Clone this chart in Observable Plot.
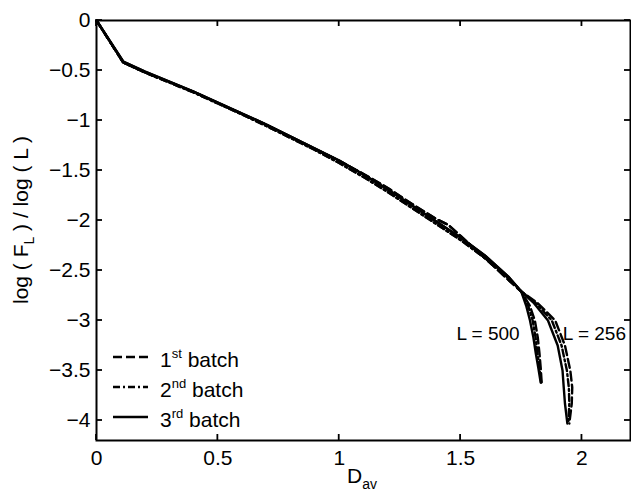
<!DOCTYPE html>
<html><head><meta charset="utf-8">
<script src="https://cdn.jsdelivr.net/npm/d3@7"></script>
<script src="https://cdn.jsdelivr.net/npm/@observablehq/plot@0.6"></script>
<style>body{margin:0;background:#fff}</style>
</head><body><div id="chart"></div>
<script>
// Shared trunk: D_av values and log(F_L)/log(L) per batch
const dav = [0, 0.11, 0.2, 0.3, 0.4, 0.5, 0.6, 0.7, 0.8, 0.9, 1.0, 1.1, 1.2, 1.3, 1.4, 1.45, 1.5, 1.6, 1.7, 1.75];
const batch1Trunk = [0, -0.42, -0.52, -0.615, -0.715, -0.825, -0.935, -1.045, -1.165, -1.285, -1.405, -1.535, -1.675, -1.835, -1.985, -2.045, -2.155, -2.375, -2.60, -2.71];
const batch2Trunk = [0, -0.42, -0.52, -0.62, -0.72, -0.83, -0.94, -1.055, -1.175, -1.295, -1.425, -1.565, -1.715, -1.875, -2.035, -2.115, -2.195, -2.375, -2.58, -2.71];
const batch3Trunk = [0, -0.41, -0.51, -0.61, -0.71, -0.82, -0.93, -1.04, -1.16, -1.28, -1.40, -1.54, -1.69, -1.85, -2.01, -2.09, -2.17, -2.35, -2.57, -2.71];

// L = 500 branch
const l500F = [-2.71, -2.85, -3.0, -3.17, -3.33, -3.47, -3.62];
const batch1L500 = [1.75, 1.785, 1.806, 1.818, 1.825, 1.83, 1.834];
const batch2L500 = [1.75, 1.778, 1.797, 1.809, 1.817, 1.825, 1.832];
const batch3L500 = [1.75, 1.77, 1.786, 1.80, 1.81, 1.82, 1.83];

// L = 256 branch
const l256F = [-2.71, -2.82, -3.0, -3.25, -3.5, -3.67, -3.83, -4.03];
const batch1L256 = [1.75, 1.815, 1.89, 1.93, 1.952, 1.96, 1.958, 1.948];
const batch2L256 = [1.75, 1.808, 1.876, 1.916, 1.938, 1.946, 1.948, 1.944];
const batch3L256 = [1.75, 1.80, 1.86, 1.90, 1.92, 1.925, 1.93, 1.94];

const xTicks = [0, 0.5, 1, 1.5, 2];
const yTicks = [0, -0.5, -1, -1.5, -2, -2.5, -3, -3.5, -4];
const batchNums = ["1", "2", "3"];
const batchSups = ["st", "nd", "rd"];
const curveLabels = ["L = 500", "L = 256"];

function curve(trunk, branchX, branchF, batch, L) {
  const pts = dav.map((x, i) => ({x, y: trunk[i], batch, L}));
  branchX.forEach((x, i) => { if (i > 0) pts.push({x, y: branchF[i], batch, L}); });
  return pts;
}
const series = [
  [batch1Trunk, batch1L500, batch1L256],
  [batch2Trunk, batch2L500, batch2L256],
  [batch3Trunk, batch3L500, batch3L256]
].map(([t, a, b], k) => curve(t, a, l500F, k, 500).concat(curve(t, b, l256F, k, 256)));

const dashStyles = ["9,4", "7,3,2,3", null];
const fmt = d => d === 0 ? "0" : (d < 0 ? "\u2212" : "") + Math.abs(d);
const FONT = "'Liberation Sans', Arial, Helvetica, sans-serif";

const W = 631, H = 492, ML = 96, MR = 1, MT = 20, MB = 52;
const xDom = [0, 2.2], yDom = [-4.2, 0];
const TICK = 6; // inward tick length in px

const plot = Plot.plot({
  width: W, height: H,
  marginLeft: ML, marginRight: MR, marginTop: MT, marginBottom: MB,
  x: {domain: xDom},
  y: {domain: yDom},
  style: {fontFamily: FONT, fontSize: "21px", color: "black", background: "white"},
  marks: [
    ...series.map((data, k) => Plot.line(data, {
      x: "x", y: "y", z: "L", stroke: "black", strokeWidth: 2.4,
      strokeDasharray: dashStyles[k], strokeLinejoin: "round"
    })),
    Plot.frame({stroke: "black", strokeWidth: 2}),
    Plot.axisX(xTicks, {anchor: "bottom", tickSize: 0, tickPadding: 10, tickFormat: fmt, label: null, fontSize: 21}),
    Plot.axisY(yTicks, {anchor: "left", tickSize: 0, tickPadding: 6, tickFormat: fmt, label: null, fontSize: 21})
  ]
});
document.getElementById("chart").appendChild(plot);

const svg = d3.select(plot);
const sx = plot.scale("x"), sy = plot.scale("y");
const [x0, x1] = sx.range, [y0, y1] = sy.range; // y0 bottom, y1 top

// inward ticks on all four sides, placed through Plot's scales
const tg = svg.append("g").attr("stroke", "black").attr("stroke-width", 1.8);
yTicks.forEach(v => {
  const p = sy.apply(v);
  tg.append("line").attr("x1", x0).attr("x2", x0 + TICK).attr("y1", p).attr("y2", p);
  tg.append("line").attr("x1", x1 - TICK).attr("x2", x1).attr("y1", p).attr("y2", p);
});
xTicks.forEach(v => {
  const p = sx.apply(v);
  tg.append("line").attr("y1", y0).attr("y2", y0 - TICK).attr("x1", p).attr("x2", p);
  tg.append("line").attr("y1", y1).attr("y2", y1 + TICK).attr("x1", p).attr("x2", p);
});

const g = svg.append("g").attr("font-family", FONT).attr("fill", "black").attr("text-anchor", "start");

// y label
const yl = g.append("text").attr("transform", "translate(28,220) rotate(-90)")
  .attr("text-anchor", "middle").attr("font-size", 21);
yl.append("tspan").text("log ( F");
yl.append("tspan").attr("font-size", 14).attr("dy", 6).text("L");
yl.append("tspan").attr("dy", -6).text(" ) / log ( L )");

// x label
const xl = g.append("text").attr("x", 347).attr("y", 483).attr("font-size", 21).attr("text-anchor", "start");
xl.append("tspan").text("D");
xl.append("tspan").attr("font-size", 14).attr("dy", 6).text("av");

// curve annotations
g.append("text").attr("x", 488).attr("y", 340).attr("text-anchor", "middle").attr("font-size", 19).text(curveLabels[0]);
g.append("text").attr("x", 626).attr("y", 340).attr("text-anchor", "end").attr("font-size", 19).text(curveLabels[1]);

// legend
batchNums.forEach((n, k) => {
  const yy = 357 + 30 * k;
  const ln = g.append("line").attr("x1", 113).attr("x2", 148).attr("y1", yy).attr("y2", yy)
    .attr("stroke", "black").attr("stroke-width", 2.4);
  if (dashStyles[k]) ln.attr("stroke-dasharray", dashStyles[k]);
  const t = g.append("text").attr("x", 160).attr("y", yy + 10).attr("font-size", 21).attr("text-anchor", "start");
  t.append("tspan").text(n);
  t.append("tspan").attr("font-size", 13).attr("dy", -9).text(batchSups[k]);
  t.append("tspan").attr("dy", 9).text(" batch");
});
</script>
</body></html>
